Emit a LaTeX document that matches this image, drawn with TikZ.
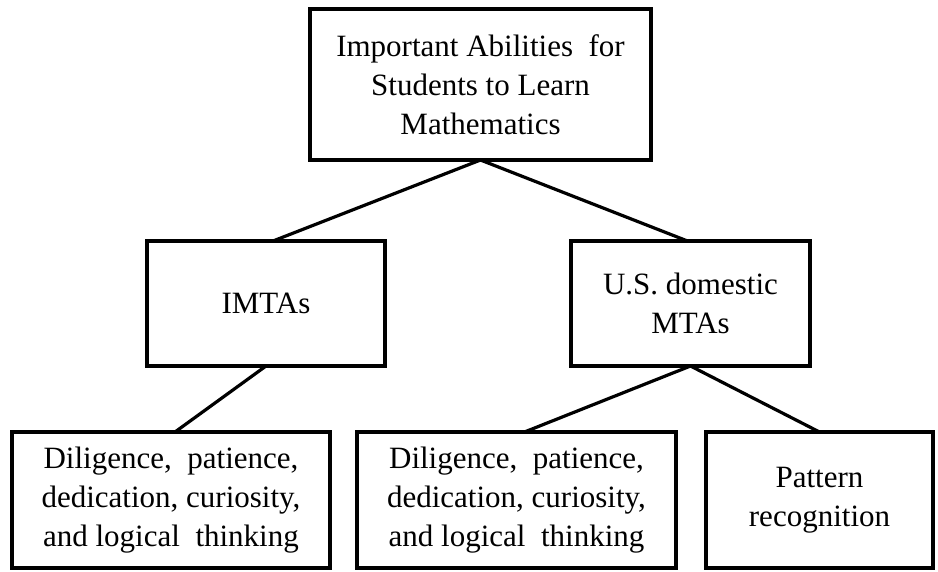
\documentclass[tikz,border=0pt]{standalone}
\usepackage{fontspec}
\setmainfont{Liberation Serif}
\begin{document}
\begin{tikzpicture}[x=1pt,y=-1pt,
  box/.style={draw=black, line width=4pt, rectangle, inner sep=0pt, outer sep=0pt,
    align=center, font=\fontsize{31}{39}\selectfont},
  link/.style={draw=black, line width=3.2pt}]
\useasboundingbox (0,0) rectangle (938,571);

% top level
\node[box, minimum width=341pt, minimum height=151pt] (top) at (480.5,84.5)
  {Important Abilities~ for\\Students to Learn\\Mathematics};

% middle level
\node[box, minimum width=238pt, minimum height=125pt] (imta) at (266,303.5) {IMTAs};
\node[box, minimum width=239pt, minimum height=125pt] (us) at (690.5,303.5)
  {U.S. domestic\\MTAs};

% bottom level
\node[box, minimum width=318pt, minimum height=136pt] (bl) at (171,500)
  {Diligence,~ patience,\\dedication, curiosity,\\and logical~ thinking};
\node[box, minimum width=319pt, minimum height=136pt] (bm) at (516.5,500)
  {Diligence,~ patience,\\dedication, curiosity,\\and logical~ thinking};
\node[box, minimum width=227pt, minimum height=136pt] (br) at (819.5,500)
  {Pattern\\recognition};

% connectors
\draw[link] (top.south) -- ([xshift=7pt]imta.north);
\draw[link] (top.south) -- ([xshift=-3pt]us.north);
\draw[link] (imta.south) -- ([xshift=4pt]bl.north);
\draw[link] (us.south) -- ([xshift=8pt]bm.north);
\draw[link] (us.south) -- (br.north);
\end{tikzpicture}
\end{document}
